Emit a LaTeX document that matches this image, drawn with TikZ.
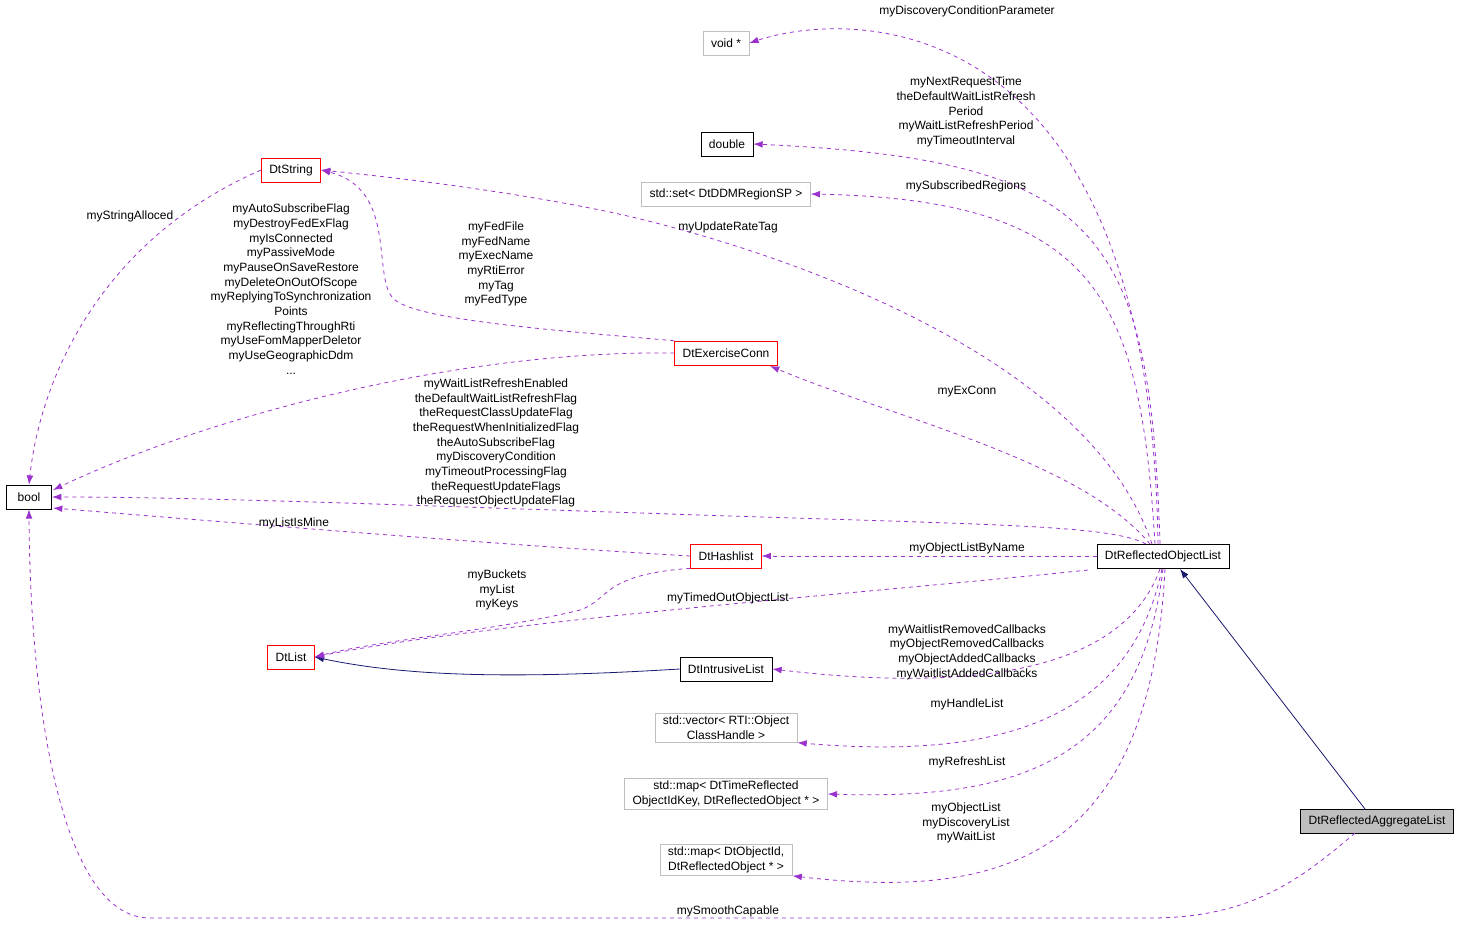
\documentclass[tikz,border=0pt]{standalone}
\usepackage{fontspec}
\setmainfont{Liberation Sans}
\usetikzlibrary{arrows.meta}
\definecolor{depc}{HTML}{9A32CD}
\definecolor{inhc}{HTML}{191970}
\tikzset{
  cls/.style={draw=black, fill=white, rectangle, minimum height=18pt, inner xsep=6pt, font=\fontsize{9}{11}\selectfont},
  clsRed/.style={cls, draw=red},
  clsGray/.style={cls, draw=black!25},
  clsSelf/.style={cls, fill=black!25},
  lbl/.style={align=center, inner sep=0pt, font=\fontsize{9}{11}\selectfont},
  dep/.style={depc, dashed, line width=0.6pt, -{Latex[length=7pt,width=5pt]}},
  inh/.style={inhc, line width=0.6pt, -{Latex[length=7pt,width=5pt]}}
}
\begin{document}
\begin{tikzpicture}[x=0.75pt, y=-0.75pt]
    \useasboundingbox (0,0) rectangle (1469,925);
    % classes
    \node (voidp) [clsGray] at (726,43) {void *};
    \node (dbl) [cls] at (727,144) {double};
    \node (regset) [clsGray] at (726,194) {std::set\textless{} DtDDMRegionSP \textgreater};
    \node (dtstr) [clsRed] at (291,170) {DtString};
    \node (exconn) [clsRed] at (726,353) {DtExerciseConn};
    \node (bool) [cls, minimum width=34pt] at (29,497) {bool};
    \node (hash) [clsRed] at (726,556) {DtHashlist};
    \node (rol) [cls] at (1163,556) {DtReflectedObjectList};
    \node (dtlist) [clsRed] at (291,657) {DtList};
    \node (intr) [cls] at (726,669) {DtIntrusiveList};
    \node (vec) [clsGray, align=center, inner ysep=2pt] at (726,728) {std::vector\textless{} RTI::Object\\ClassHandle \textgreater};
    \node (maptime) [clsGray, align=center, inner ysep=2pt] at (726,794) {std::map\textless{} DtTimeReflected\\ObjectIdKey, DtReflectedObject * \textgreater};
    \node (mapid) [clsGray, align=center, inner ysep=2pt] at (726,860) {std::map\textless{} DtObjectId,\\DtReflectedObject * \textgreater};
    \node (agg) [clsSelf] at (1377,821) {DtReflectedAggregateList};

    % inheritance
    \draw [inh] (1365,809) -- (1180,569);
    \draw [inh] (intr.west) .. controls (500,680) and (400,675) .. (dtlist.east);

    % members of DtReflectedObjectList
    \draw [dep] (1158,544) .. controls (1150,0) and (850,10) .. (voidp.east);
    \draw [dep] (1160,544) .. controls (1150,230) and (1100,160) .. (dbl.east);
    \draw [dep] (1155,544) .. controls (1140,300) and (1100,200) .. (regset.east);
    \draw [dep] (1152,544) .. controls (1080,330) and (700,230) .. (600,210) .. controls (500,190) and (400,178) .. (dtstr.east);
    \draw [dep] (1150,544) .. controls (1080,460) and (900,420) .. (770,366);
    \draw [dep] (1146,544) .. controls (1110,525) and (1000,525) .. (700,515) .. controls (400,505) and (200,497) .. (bool.east);
    \draw [dep] (rol.west) -- (hash.east);
    \draw [dep] (1088,570) .. controls (900,590) and (500,620) .. (dtlist.east);
    \draw [dep] (1160,569) .. controls (1120,680) and (950,690) .. (intr.east);
    \draw [dep] (1162,569) .. controls (1130,720) and (1000,760) .. (vec.south east);
    \draw [dep] (1163,569) .. controls (1140,760) and (1020,800) .. (maptime.east);
    \draw [dep] (1165,569) .. controls (1150,860) and (1000,900) .. (mapid.south east);
    % other members
    \draw [dep] (dtstr.west) .. controls (100,240) and (40,380) .. (bool.north);
    \draw [dep] (exconn.north west) .. controls (550,330) and (420,320) .. (395,300) .. controls (370,280) and (400,190) .. (dtstr.east);
    \draw [dep] (exconn.west) .. controls (450,350) and (200,420) .. (53,490);
    \draw [dep] (hash.west) .. controls (500,545) and (200,520) .. (53,508);
    \draw [dep] (hash.south west) .. controls (600,575) and (610,600) .. (580,610) .. controls (500,630) and (380,640) .. (dtlist.east);
    \draw [dep] (1355,833) .. controls (1300,880) and (1250,918) .. (1150,918) -- (150,918) .. controls (60,918) and (30,700) .. (bool.south);

    % labels
    \node (lDisc) [lbl] at (967,11) {myDiscoveryConditionParameter};
    \node (lTime) [lbl] at (966,112) {myNextRequestTime\\theDefaultWaitListRefresh\\Period\\myWaitListRefreshPeriod\\myTimeoutInterval};
    \node (lRegs) [lbl] at (966,186) {mySubscribedRegions};
    \node (lRate) [lbl] at (728,227) {myUpdateRateTag};
    \node (lExC) [lbl] at (967,392) {myExConn};
    \node (lFlags) [lbl] at (496,443) {myWaitListRefreshEnabled\\theDefaultWaitListRefreshFlag\\theRequestClassUpdateFlag\\theRequestWhenInitializedFlag\\theAutoSubscribeFlag\\myDiscoveryCondition\\myTimeoutProcessingFlag\\theRequestUpdateFlags\\theRequestObjectUpdateFlag};
    \node (lByName) [lbl] at (967,548) {myObjectListByName};
    \node (lTimed) [lbl] at (728,598) {myTimedOutObjectList};
    \node (lCbs) [lbl] at (967,652) {myWaitlistRemovedCallbacks\\myObjectRemovedCallbacks\\myObjectAddedCallbacks\\myWaitlistAddedCallbacks};
    \node (lHandle) [lbl] at (967,704) {myHandleList};
    \node (lRefr) [lbl] at (967,762) {myRefreshList};
    \node (lObjs) [lbl] at (966,823) {myObjectList\\myDiscoveryList\\myWaitList};
    \node (lAlloc) [lbl] at (130,216) {myStringAlloced};
    \node (lFed) [lbl] at (496,264) {myFedFile\\myFedName\\myExecName\\myRtiError\\myTag\\myFedType};
    \node (lConn) [lbl] at (291,289) {myAutoSubscribeFlag\\myDestroyFedExFlag\\myIsConnected\\myPassiveMode\\myPauseOnSaveRestore\\myDeleteOnOutOfScope\\myReplyingToSynchronization\\Points\\myReflectingThroughRti\\myUseFomMapperDeletor\\myUseGeographicDdm\\...};
    \node (lMine) [lbl] at (294,523) {myListIsMine};
    \node (lBuck) [lbl] at (497,590) {myBuckets\\myList\\myKeys};
    \node (lSmooth) [lbl] at (728,911) {mySmoothCapable};
\end{tikzpicture}
\end{document}
